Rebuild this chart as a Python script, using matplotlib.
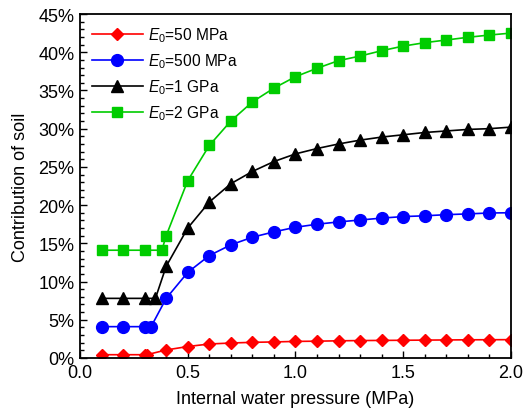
import matplotlib
matplotlib.use("Agg")
import matplotlib.pyplot as plt
from matplotlib.ticker import MultipleLocator, FuncFormatter

plt.rcParams['font.family'] = ['Liberation Sans', 'DejaVu Sans']
plt.rcParams['mathtext.fontset'] = 'custom'
plt.rcParams['mathtext.rm'] = 'Liberation Sans'
plt.rcParams['mathtext.it'] = 'Liberation Sans:italic'

base_x = [0.4, 0.5, 0.6, 0.7, 0.8, 0.9, 1.0, 1.1, 1.2, 1.3, 1.4, 1.5, 1.6, 1.7, 1.8, 1.9, 2.0]

x_red = [0.1, 0.2, 0.3, 0.31] + base_x
y_red = [0.43, 0.43, 0.43, 0.43, 1.05, 1.5, 1.83, 1.96, 2.05, 2.1, 2.17, 2.2, 2.25, 2.28, 2.3, 2.32, 2.34, 2.36, 2.38, 2.39, 2.4]

x_blue = [0.1, 0.2, 0.3, 0.33] + base_x
y_blue = [4.1, 4.1, 4.1, 4.1, 7.8, 11.2, 13.4, 14.8, 15.8, 16.5, 17.1, 17.5, 17.8, 18.05, 18.3, 18.5, 18.6, 18.75, 18.85, 18.97, 19.0]

x_black = [0.1, 0.2, 0.3, 0.35] + base_x
y_black = [7.8, 7.8, 7.8, 7.8, 12.0, 17.0, 20.4, 22.8, 24.4, 25.7, 26.7, 27.4, 28.0, 28.5, 28.9, 29.2, 29.5, 29.7, 29.9, 30.0, 30.2]

x_green = [0.1, 0.2, 0.3, 0.38] + base_x
y_green = [14.1, 14.1, 14.1, 14.1, 16.0, 23.2, 27.8, 31.0, 33.5, 35.3, 36.8, 37.9, 38.9, 39.5, 40.2, 40.8, 41.25, 41.6, 41.95, 42.25, 42.5]

labels = [r"$E_0$=50 MPa", r"$E_0$=500 MPa", r"$E_0$=1 GPa", r"$E_0$=2 GPa"]

fig = plt.figure(figsize=(5.24, 4.10), dpi=100)
ax = fig.add_axes([0.1527, 0.1244, 0.8223, 0.839])

fs = 13
ax.plot(x_red, y_red, color='#FF0000', marker='D', markersize=6.5, lw=1.2, label=labels[0])
ax.plot(x_blue, y_blue, color='#0000FF', marker='o', markersize=8.5, lw=1.2, label=labels[1])
ax.plot(x_black, y_black, color='#000000', marker='^', markersize=8.5, lw=1.2, label=labels[2])
ax.plot(x_green, y_green, color='#00CC00', marker='s', markersize=7.5, lw=1.2, label=labels[3])

ax.set_xlim(0, 2.0)
ax.set_ylim(0, 45)
ax.xaxis.set_major_locator(MultipleLocator(0.5))
ax.xaxis.set_minor_locator(MultipleLocator(0.1))
ax.yaxis.set_major_locator(MultipleLocator(5))
ax.yaxis.set_minor_locator(MultipleLocator(1))
ax.xaxis.set_major_formatter(FuncFormatter(lambda v, p: f"{v:.1f}"))
ax.yaxis.set_major_formatter(FuncFormatter(lambda v, p: f"{v:.0f}%"))
ax.tick_params(which='both', direction='in', top=False, right=False, labelsize=fs, width=1.0)
ax.tick_params(which='major', length=5, pad=4)
ax.tick_params(which='minor', length=3)
for s in ax.spines.values():
    s.set_linewidth(1.3)

ax.set_xlabel("Internal water pressure (MPa)", fontsize=fs, labelpad=7)
ax.set_ylabel("Contribution of soil", fontsize=fs, labelpad=7)

ax.legend(loc='upper left', frameon=False, fontsize=11.2, handlelength=3.3, labelspacing=0.46,
          borderaxespad=0.35, handletextpad=0.35)

fig.savefig("out.png", dpi=100)
